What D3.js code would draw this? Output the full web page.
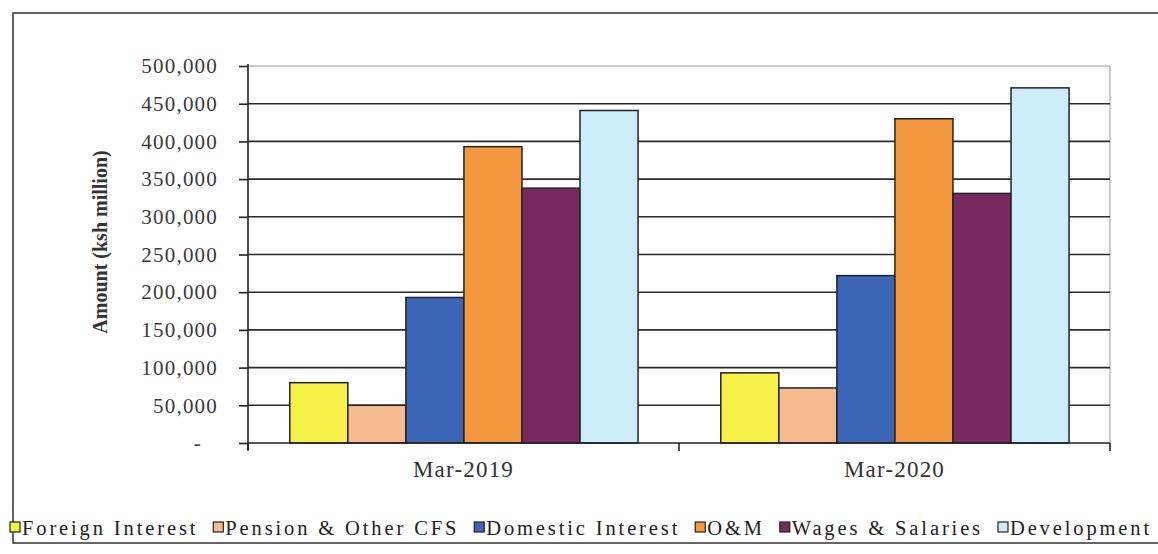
<!DOCTYPE html>
<html>
<head>
<meta charset="utf-8">
<script src="https://cdn.jsdelivr.net/npm/d3@7"></script>
<style>
  body { margin: 0; background: #fff; }
  svg { display: block; }
  .serif { font-family: "Liberation Serif", "Times New Roman", serif; }
</style>
</head>
<body>
<div id="chart"></div>
<script>
// values (ksh million)
const categories = ["Mar-2019", "Mar-2020"];
const seriesNames = ["Foreign Interest", "Pension & Other CFS", "Domestic Interest", "O&M", "Wages & Salaries", "Development"];
const values2019 = [80000, 50000, 193000, 393000, 338000, 441000];
const values2020 = [93000, 73000, 222000, 430000, 331000, 471000];
const yTickValues = [0, 50000, 100000, 150000, 200000, 250000, 300000, 350000, 400000, 450000, 500000];
const seriesColors = ["#f7f14a", "#f6bb90", "#3d65b5", "#f4983f", "#78295f", "#cbeefa"];

const W = 1158, H = 554;
const plot = {left: 248, right: 1110, top: 66, bottom: 443};

const svg = d3.select("#chart")
    .append("svg")
    .attr("width", W)
    .attr("height", H)
    .attr("class", "serif");

// outer chart frame (right side runs off the page)
svg.append("path")
    .attr("d", `M1170,13 H13 V543 H1170`)
    .attr("fill", "none")
    .attr("stroke", "#333")
    .attr("stroke-width", 1.5);

const rows = categories.map((c, i) => ({
    category: c,
    values: [values2019, values2020][i]
}));

const x0 = d3.scaleBand()
    .domain(categories)
    .range([plot.left, plot.right])
    .padding(0);

const x1 = d3.scaleBand()
    .domain(seriesNames)
    .range([x0.bandwidth() * 0.097, x0.bandwidth() * 0.905])
    .padding(0);

const y = d3.scaleLinear()
    .domain([0, 500000])
    .range([plot.bottom, plot.top]);

// right border of plot area
svg.append("line")
    .attr("x1", plot.right).attr("x2", plot.right)
    .attr("y1", plot.top).attr("y2", plot.bottom)
    .attr("stroke", "#9a9a9a")
    .attr("stroke-width", 1);

// gridlines
svg.append("g")
    .selectAll("line")
    .data(yTickValues.filter(v => v > 0))
    .join("line")
    .attr("x1", plot.left).attr("x2", plot.right)
    .attr("y1", d => y(d)).attr("y2", d => y(d))
    .attr("stroke", d => d === 500000 ? "#9a9a9a" : "#2b2b2b")
    .attr("stroke-width", d => d === 500000 ? 1 : 1.6);

// bars
const groups = svg.append("g")
    .selectAll("g")
    .data(rows)
    .join("g")
    .attr("transform", d => `translate(${x0(d.category)},0)`);

groups.selectAll("rect")
    .data(d => d.values.map((v, i) => ({name: seriesNames[i], value: v, color: seriesColors[i]})))
    .join("rect")
    .attr("x", d => x1(d.name))
    .attr("y", d => y(d.value))
    .attr("width", x1.bandwidth())
    .attr("height", d => y(0) - y(d.value))
    .attr("fill", d => d.color)
    .attr("stroke", "#222")
    .attr("stroke-width", 1.5);

// y axis
const yAxis = svg.append("g")
    .attr("transform", `translate(${plot.left},0)`)
    .call(d3.axisLeft(y)
        .tickValues(yTickValues)
        .tickSize(9)
        .tickPadding(21)
        .tickFormat(d => d === 0 ? "-" : d3.format(",")(d)));

yAxis.select(".domain")
    .attr("d", `M0,${plot.top - 2}V${plot.bottom + 7}`)
    .attr("stroke", "#222")
    .attr("stroke-width", 1.6);
yAxis.selectAll(".tick line").attr("stroke", "#222").attr("stroke-width", 1.6);
yAxis.selectAll(".tick text")
    .attr("class", "serif")
    .style("font-size", "21px")
    .style("letter-spacing", "1.2px")
    .attr("fill", "#3a3a3a")
    .attr("dx", d => d === 0 ? -16 : 0);

// x axis baseline and category ticks
svg.append("line")
    .attr("x1", plot.left).attr("x2", plot.right)
    .attr("y1", y(0)).attr("y2", y(0))
    .attr("stroke", "#222")
    .attr("stroke-width", 1.6);

svg.append("g")
    .selectAll("line")
    .data([...categories.map(c => x0(c)), plot.right])
    .join("line")
    .attr("x1", d => d).attr("x2", d => d)
    .attr("y1", y(0)).attr("y2", y(0) + 8)
    .attr("stroke", "#222")
    .attr("stroke-width", 1.6);

svg.append("g")
    .selectAll("text")
    .data(categories)
    .join("text")
    .attr("x", d => x0(d) + x0.bandwidth() / 2)
    .attr("y", 477)
    .attr("text-anchor", "middle")
    .style("font-size", "23px")
    .style("letter-spacing", "1.2px")
    .attr("fill", "#333")
    .text(d => d);

// y axis title
svg.append("text")
    .attr("transform", `translate(107,242) rotate(-90)`)
    .attr("text-anchor", "middle")
    .style("font-size", "20px")
    .style("font-weight", "bold")
    .attr("fill", "#333")
    .text("Amount (ksh million)");

// legend: spread along the bottom the way the scan shows it
const legend = svg.append("g").attr("transform", "translate(10,528)");
const sq = 10, textGap = 2, itemGap = 15, legendEnd = 1152;

const items = legend.selectAll("g")
    .data(seriesNames.map((n, i) => ({name: n, color: seriesColors[i]})))
    .join("g");

items.append("rect")
    .attr("y", -sq / 2 - 1)
    .attr("width", sq)
    .attr("height", sq)
    .attr("fill", d => d.color)
    .attr("stroke", "#222")
    .attr("stroke-width", 1.2);

const labels = items.append("text")
    .attr("x", sq + textGap)
    .attr("dy", "0.32em")
    .style("font-size", "20.5px")
    .attr("fill", "#222")
    .text(d => d.name);

const natural = labels.nodes().map(n => n.getComputedTextLength());
const totalChars = d3.sum(seriesNames, s => s.length);
const fixed = d3.sum(natural) + seriesNames.length * (sq + textGap) + (seriesNames.length - 1) * itemGap;
const ls = Math.max(0, (legendEnd - 10 - fixed) / totalChars);
labels.style("letter-spacing", ls + "px");

let pos = 0;
items.attr("transform", (d, i) => {
    const t = `translate(${pos},0)`;
    pos += sq + textGap + natural[i] + ls * d.name.length + itemGap;
    return t;
});
</script>
</body>
</html>
